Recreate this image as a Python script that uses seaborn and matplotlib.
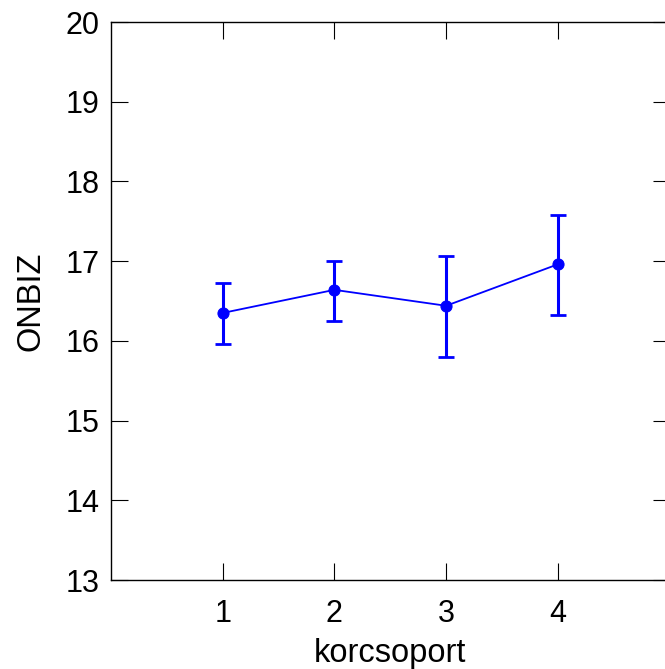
import matplotlib
matplotlib.use("Agg")
import matplotlib.pyplot as plt
import seaborn as sns
import numpy as np

groups = [1, 2, 3, 4]
means = [16.35, 16.64, 16.44, 16.96]
upper = [16.72, 17.00, 17.06, 17.58]
lower = [15.96, 16.25, 15.80, 16.33]
yticks = [13, 14, 15, 16, 17, 18, 19, 20]

sns.set_theme(style="white")
plt.rcParams['font.family'] = ['Liberation Sans', 'DejaVu Sans']
plt.rcParams['text.color'] = 'black'
plt.rcParams['axes.labelcolor'] = 'black'

fig = plt.figure(figsize=(6.65, 6.69), dpi=100)
ax = fig.add_axes([111/665, 89/669, 558.5/665, 558/669])

blue = "#0000FF"
m = np.array(means)
yerr = np.vstack([m - np.array(lower), np.array(upper) - m])
ax.errorbar(groups, means, yerr=yerr, fmt='none', ecolor=blue, elinewidth=2.2,
            capsize=6, capthick=2, zorder=2)
sns.lineplot(x=groups, y=means, ax=ax, color=blue, marker='o', markersize=8,
             markeredgecolor=blue, linewidth=1.3, zorder=3)

ax.set_xlim(0, 5)
ax.set_ylim(13, 20)
ax.set_xticks(groups)
ax.set_yticks(yticks)
ax.tick_params(direction='in', length=12, width=0.8, colors='black',
               labelcolor='black', labelsize=22, top=True, right=True,
               bottom=True, left=True)
ax.tick_params(axis='x', pad=14)
ax.tick_params(axis='y', pad=8)
for s in ax.spines.values():
    s.set_color('black')
    s.set_linewidth(1.0)
ax.set_xlabel("korcsoport", fontsize=23.5, labelpad=6, color='black')
ax.set_ylabel("ONBIZ", fontsize=23.5, labelpad=14, color='black')
ax.grid(False)

fig.savefig("out.png", dpi=100)
